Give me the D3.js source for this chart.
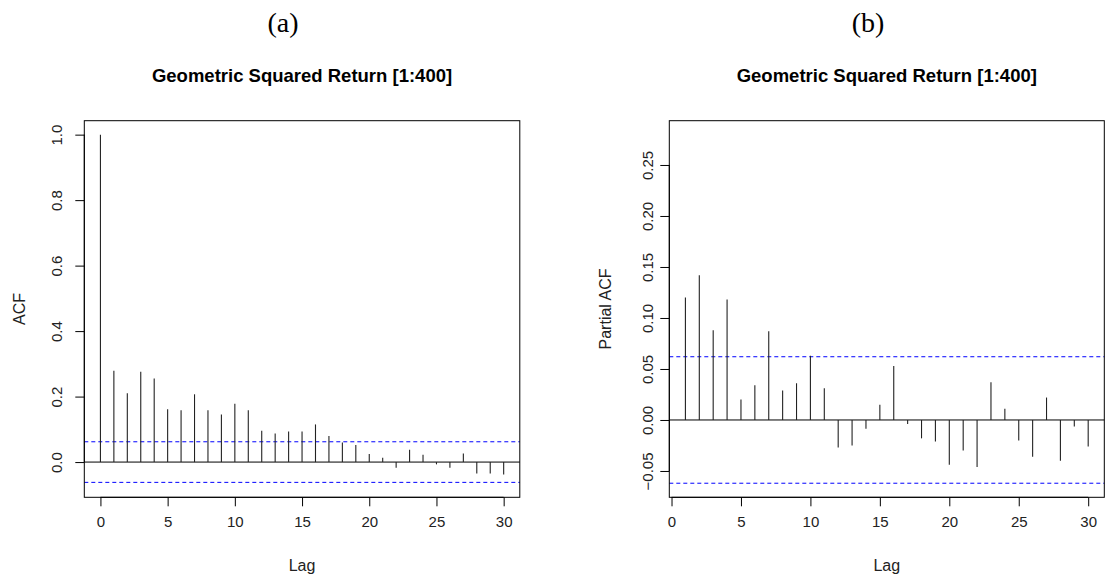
<!DOCTYPE html>
<html><head><meta charset="utf-8">
<script src="https://cdn.jsdelivr.net/npm/d3@7"></script>
<style>body{margin:0;background:#fff}svg{display:block}text{font-family:"Liberation Sans",Arial,sans-serif}</style>
</head><body>
<svg id="c" width="1107" height="579"></svg>
<script>
const acfLags = d3.range(0, 31);
const acfValues = [1.0,0.279,0.210,0.276,0.255,0.161,0.158,0.207,0.158,0.145,0.178,0.158,0.096,0.087,0.093,0.093,0.115,0.080,0.060,0.052,0.025,0.013,-0.017,0.038,0.022,-0.007,-0.017,0.026,-0.035,-0.035,-0.038];
const pacfLags = d3.range(1, 31);
const pacfValues = [0.120,0.142,0.088,0.118,0.020,0.034,0.087,0.029,0.036,0.063,0.031,-0.027,-0.025,-0.0085,0.015,0.053,-0.004,-0.018,-0.021,-0.044,-0.030,-0.046,0.037,0.011,-0.020,-0.036,0.022,-0.040,-0.0065,-0.026];
const ciBound = 0.062;
const xTicks = [0,5,10,15,20,25,30];
const acfYTicks = [0.0,0.2,0.4,0.6,0.8,1.0];
const pacfYTicks = [-0.05,0.00,0.05,0.10,0.15,0.20,0.25];
const panelLetters = ["(a)", "(b)"];
const titleText = "Geometric Squared Return [1:400]";

const svg = d3.select("#c");

function panel(cfg){
  const g = svg.append("g");
  const x = d3.scaleLinear().domain(cfg.xDomain).range([cfg.left, cfg.right]);
  const y = d3.scaleLinear().domain(cfg.yDomain).range([cfg.bottom, cfg.top]);
  g.append("text").attr("x",cfg.letterX).attr("y",32).attr("text-anchor","middle")
    .style("font-family",'"Liberation Serif","Times New Roman",serif').style("font-size","28px").attr("fill","#000").text(cfg.letter);
  g.append("text").attr("x",(cfg.left+cfg.right)/2).attr("y",82).attr("text-anchor","middle")
    .style("font-size","18.5px").style("font-weight","bold").attr("fill","#000").text(titleText);
  [ciBound,-ciBound].forEach(v=>{
    g.append("line").attr("x1",cfg.left).attr("x2",cfg.right).attr("y1",y(v)).attr("y2",y(v))
      .attr("stroke","#0000ff").attr("stroke-width",1).attr("stroke-dasharray","4,3");
  });
  g.append("line").attr("x1",cfg.left).attr("x2",cfg.right).attr("y1",y(0)).attr("y2",y(0))
    .attr("stroke","#000").attr("stroke-width",1);
  g.selectAll("line.stem").data(cfg.lags.map((l,i)=>({l, v:cfg.values[i]}))).join("line")
    .attr("class","stem").attr("x1",d=>x(d.l)).attr("x2",d=>x(d.l)).attr("y1",y(0)).attr("y2",d=>y(d.v))
    .attr("stroke","#222").attr("stroke-width",1.1);
  g.append("rect").attr("x",cfg.left).attr("y",cfg.top).attr("width",cfg.right-cfg.left).attr("height",cfg.bottom-cfg.top)
    .attr("fill","none").attr("stroke","#000").attr("stroke-width",1);
  const xa = g.append("g").attr("transform",`translate(0,${cfg.bottom})`)
    .call(d3.axisBottom(x).tickValues(xTicks).tickSize(9).tickPadding(10).tickFormat(d3.format("d")));
  xa.select(".domain").attr("d",`M${x(xTicks[0])},0H${x(xTicks[xTicks.length-1])}`);
  xa.selectAll("text").style("font-size","15px").attr("fill","#222");
  xa.selectAll("line").attr("stroke","#000");
  const ya = g.append("g").attr("transform",`translate(${cfg.left},0)`)
    .call(d3.axisLeft(y).tickValues(cfg.yTicks).tickSize(9).tickFormat(cfg.yFmt));
  ya.select(".domain").attr("d",`M0,${y(cfg.yTicks[0])}V${y(cfg.yTicks[cfg.yTicks.length-1])}`);
  ya.selectAll("line").attr("stroke","#000");
  ya.selectAll("text").style("font-size","15px").attr("fill","#222")
    .attr("x",null).attr("dy",null).attr("text-anchor","middle")
    .attr("transform",`translate(${cfg.yLabelX-cfg.left},0) rotate(-90)`)
    .attr("dominant-baseline","central");
  g.append("text").attr("x",(cfg.left+cfg.right)/2).attr("y",571).attr("text-anchor","middle")
    .style("font-size","16px").attr("fill","#222").text("Lag");
  g.append("text").attr("transform",`translate(${cfg.yTitleX},${(cfg.top+cfg.bottom)/2}) rotate(-90)`)
    .attr("text-anchor","middle").attr("dominant-baseline","central").style("font-size","16px").attr("fill","#222").text(cfg.yTitle);
}

panel({letter:panelLetters[0], letterX:283, left:84.3, right:519.8, top:120.7, bottom:497.3,
  xDomain:[-1.2,31.2], yDomain:[-0.1076,1.0426], lags:acfLags, values:acfValues,
  yTicks:acfYTicks, yFmt:d3.format(".1f"), yLabelX:56, yTitle:"ACF", yTitleX:19});
panel({letter:panelLetters[1], letterX:868, left:669.3, right:1104.3, top:120.7, bottom:497.3,
  xDomain:[-0.16,31.16], yDomain:[-0.0758,0.2934], lags:pacfLags, values:pacfValues,
  yTicks:pacfYTicks, yFmt:d3.format(".2f"), yLabelX:647, yTitle:"Partial ACF", yTitleX:605});
</script>
</body></html>
